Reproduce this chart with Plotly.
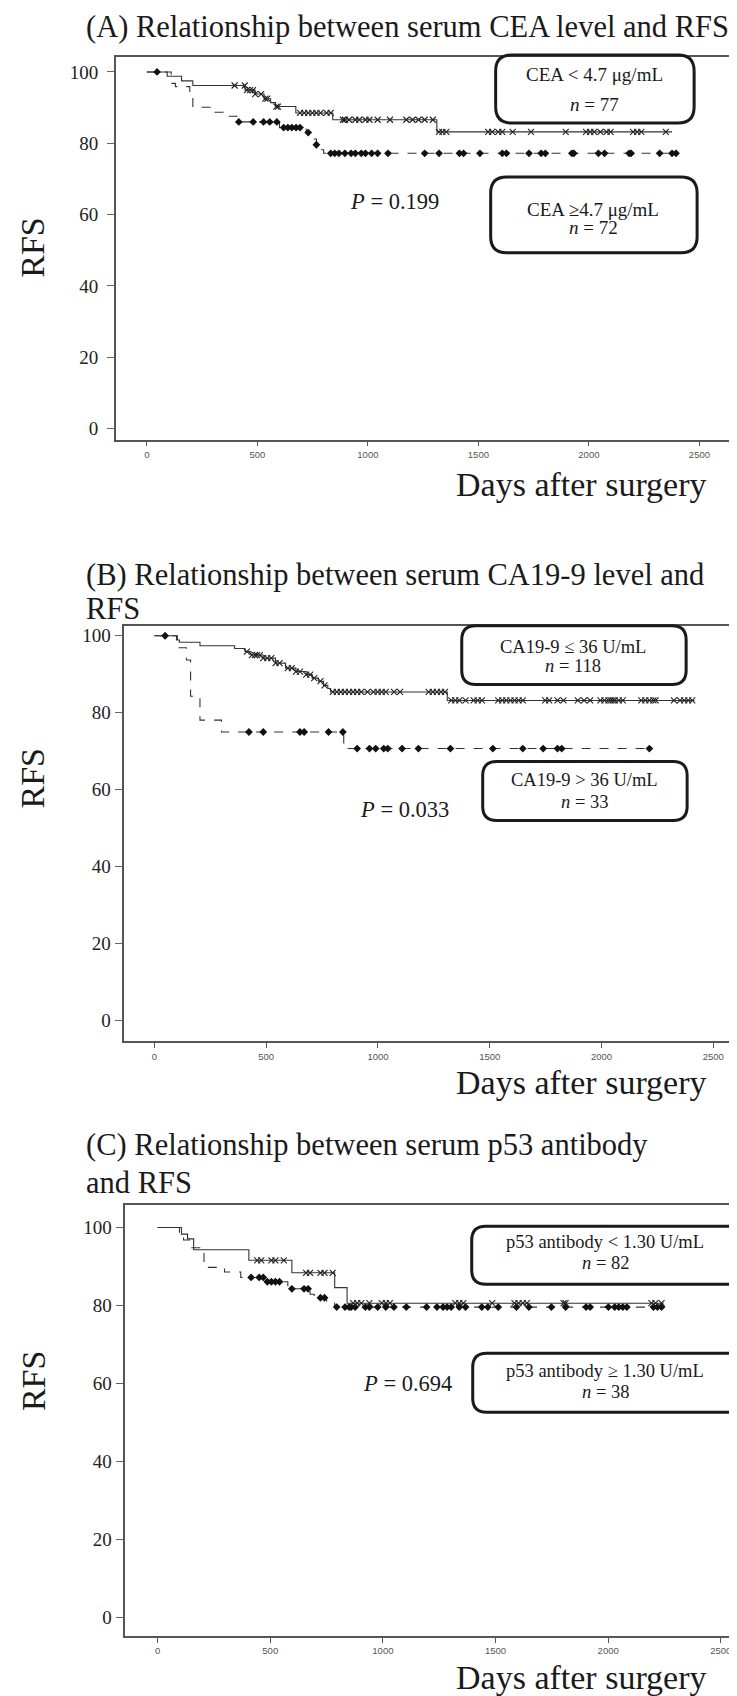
import numpy as np
import plotly.graph_objects as go

W, H = 737, 1696
OFF = 8  # browser body margin
FW, FH = W - OFF, H - OFF

# ---------------- Data ----------------
# Panel A: CEA
a_low_event_days = [0, 92, 157, 208, 444, 490, 530, 560, 582, 674, 841, 1312]
a_low_surv = [100, 98.8, 97.5, 96.2, 94.9, 93.8, 92.5, 91.4, 90.3, 88.5, 86.6, 83.2]
a_low_end = 2376
a_low_censor = [397, 443, 453, 467, 480, 490, 517, 536, 545, 586, 593, 693, 712, 730, 749, 767,
                786, 813, 832, 887, 896, 915, 943, 961, 989, 1007, 1044, 1100, 1174, 1202, 1229,
                1257, 1294, 1322, 1337, 1355, 1544, 1562, 1590, 1608, 1655, 1738, 1895, 1987,
                2006, 2024, 2052, 2080, 2098, 2200, 2219, 2237, 2348]
a_high_event_days = [0, 110, 129, 194, 208, 286, 360, 407, 600, 721, 739, 767, 786, 800]
a_high_surv = [100, 96.8, 95.9, 93.0, 90.1, 88.7, 87.6, 86.0, 84.4, 83.0, 81.2, 79.6, 78.2, 77.2]
a_high_end = 2404
a_high_censor = [46, 416, 481, 528, 556, 588, 619, 638, 656, 675, 693, 730, 767, 832, 850, 869,
                 896, 924, 943, 970, 989, 1017, 1044, 1091, 1257, 1322, 1414, 1433, 1507, 1608,
                 1627, 1729, 1784, 1803, 1923, 1932, 2043, 2071, 2182, 2191, 2320, 2376, 2394]

# Panel B: CA19-9
b_low_event_days = [0, 103, 112, 204, 359, 405, 432, 487, 542, 587, 633, 679, 706, 734, 757,
                    776, 788, 1310]
b_low_surv = [100, 98.9, 98.3, 97.4, 96.7, 95.9, 95.0, 94.2, 92.9, 91.6, 90.7, 89.9, 89.0,
              88.2, 87.1, 86.3, 85.4, 83.2]
b_low_end = 2415
b_low_censor = [414, 436, 450, 459, 472, 487, 505, 523, 542, 560, 597, 615, 633, 651, 679, 697,
                715, 743, 761, 798, 816, 834, 852, 871, 889, 907, 925, 953, 980, 999, 1017, 1035,
                1072, 1099, 1227, 1245, 1264, 1282, 1300, 1328, 1346, 1364, 1392, 1428, 1446,
                1465, 1538, 1556, 1574, 1593, 1611, 1629, 1648, 1748, 1766, 1803, 1830, 1894,
                1922, 1949, 1995, 2013, 2031, 2041, 2050, 2059, 2077, 2095, 2178, 2196, 2214,
                2232, 2242, 2324, 2351, 2370, 2388, 2406]
b_high_event_days = [0, 99, 143, 162, 204, 300, 847]
b_high_surv = [100, 96.9, 93.7, 84.3, 78.1, 75.0, 70.7]
b_high_end = 2214
b_high_censor = [48, 423, 487, 651, 670, 779, 843, 907, 962, 990, 1026, 1044, 1108, 1181, 1324,
                 1514, 1648, 1739, 1803, 1822, 2214]

# Panel C: p53 antibody
c_low_event_days = [0, 106, 133, 160, 405, 596, 786, 841]
c_low_surv = [100, 98.3, 97.1, 94.3, 91.6, 88.4, 84.6, 80.6]
c_low_end = 2246
c_low_censor = [442, 460, 505, 523, 560, 659, 677, 723, 741, 777, 868, 886, 904, 940, 995, 1013,
                1031, 1321, 1339, 1357, 1485, 1584, 1602, 1621, 1639, 1802, 1811, 2192, 2210, 2237]
c_high_event_days = [0, 97, 115, 151, 206, 297, 369, 478, 578, 677, 695, 750, 786]
c_high_surv = [100, 97.5, 96.8, 94.8, 89.8, 88.6, 87.2, 86.1, 84.3, 82.9, 82.0, 80.9, 79.6]
c_high_end = 2255
c_high_censor = [415, 451, 469, 487, 505, 523, 541, 596, 650, 668, 723, 741, 795, 832, 850, 859,
                 877, 922, 940, 977, 1013, 1049, 1104, 1194, 1240, 1267, 1285, 1303, 1339, 1367,
                 1439, 1466, 1512, 1593, 1648, 1748, 1811, 1902, 1920, 2001, 2029, 2047, 2065,
                 2083, 2201, 2219, 2237]

y_ticks = [0, 20, 40, 60, 80, 100]
x_ticks = [0, 500, 1000, 1500, 2000, 2500]

titles = [["(A) Relationship between serum CEA level and RFS"],
          ["(B) Relationship between serum CA19-9 level and", "RFS"],
          ["(C) Relationship between serum p53 antibody", "and RFS"]]
box_texts = [
    [["CEA < 4.7 μg/mL", "<i>n</i> = 77"], ["CEA ≥4.7 μg/mL", "<i>n</i> = 72"]],
    [["CA19-9 ≤ 36 U/mL", "<i>n</i> = 118"], ["CA19-9 > 36 U/mL", "<i>n</i> = 33"]],
    [["p53 antibody < 1.30 U/mL", "<i>n</i> = 82"], ["p53 antibody ≥ 1.30 U/mL", "<i>n</i> = 38"]],
]
p_values = ["0.199", "0.033", "0.694"]

# ---------------- Layout geometry (screen pixels) ----------------
panels = [
    dict(frame=(116, 56, 737, 439), xr=[-141, 2661], yr=[-3.1, 104.2],
         title_y=[26], days_y=484, rfs_y=246, box_fs=19, standoff=5,
         boxes=[(497, 54, 696, 122, 16, 74, 104, 596), (492, 176, 699, 252, 16, 209, 227, 595)],
         p=(396, 201)),
    dict(frame=(124.5, 625.5, 737, 1041), xr=[-135, 2597], yr=[-5.35, 102.5],
         title_y=[574, 608], days_y=1082, rfs_y=777, box_fs=18.5, standoff=1,
         boxes=[(463, 625, 688, 684, 14, 646, 665, 575), (484, 761, 689, 820, 14, 779, 801, 586)],
         p=(406, 809)),
    dict(frame=(125.5, 1205, 737, 1636), xr=[-144, 2563], yr=[-4.7, 105.7],
         title_y=[1145, 1183], days_y=1677, rfs_y=1380, box_fs=18.5, standoff=1,
         boxes=[(473, 1226, 745, 1284, 14, 1242, 1263, 607), (474, 1353, 745, 1412, 14, 1371, 1392, 607)],
         p=(409, 1383)),
]

def X(px):
    return (px - OFF) / FW

def Y(py):
    return 1 - (py - OFF) / FH

def step_trace(days, surv, end, dash, xa, ya):
    xs = list(days) + [end]
    ys = list(surv) + [surv[-1]]
    return go.Scatter(x=xs, y=ys, mode="lines", line_shape="hv",
                      line=dict(color="#333333", width=1.1, dash=dash),
                      xaxis=xa, yaxis=ya, showlegend=False, hoverinfo="skip")

def censor_trace(days, surv, cens, symbol, xa, ya):
    d = np.array(days)
    s = np.array(surv)
    idx = np.searchsorted(d, np.array(cens), side="right") - 1
    if symbol == "x":
        marker = dict(symbol="x-thin", size=6, line=dict(width=1.1, color="#222"))
    else:
        marker = dict(symbol="diamond", size=6, color="#111", line=dict(width=0))
    return go.Scatter(x=cens, y=s[idx], mode="markers", marker=marker,
                      xaxis=xa, yaxis=ya, showlegend=False, hoverinfo="skip")

data_sets = [
    (a_low_event_days, a_low_surv, a_low_end, a_low_censor,
     a_high_event_days, a_high_surv, a_high_end, a_high_censor),
    (b_low_event_days, b_low_surv, b_low_end, b_low_censor,
     b_high_event_days, b_high_surv, b_high_end, b_high_censor),
    (c_low_event_days, c_low_surv, c_low_end, c_low_censor,
     c_high_event_days, c_high_surv, c_high_end, c_high_censor),
]

fig = go.Figure()
layout = dict(width=FW, height=FH, margin=dict(l=0, r=0, t=0, b=0),
              paper_bgcolor="white", plot_bgcolor="white", showlegend=False)
annotations = []
shapes = []

SERIF = "Liberation Serif, Times New Roman, serif"
SANS = "Liberation Sans, Arial, sans-serif"
TXT = "#1a1a1a"

for i, (pn, ds) in enumerate(zip(panels, data_sets)):
    k = "" if i == 0 else str(i + 1)
    xa, ya = "x" + k, "y" + k
    ld, ls, le, lc, hd, hs, he, hc = ds
    fig.add_trace(step_trace(hd, hs, he, "dash", xa, ya))
    fig.add_trace(step_trace(ld, ls, le, "solid", xa, ya))
    fig.add_trace(censor_trace(hd, hs, hc, "diamond", xa, ya))
    fig.add_trace(censor_trace(ld, ls, lc, "x", xa, ya))

    x0, y0, x1, y1 = pn["frame"]
    layout["xaxis" + k] = dict(domain=[X(x0), min(1.0, X(x1))], range=pn["xr"], anchor=ya,
                               showline=True, mirror=True, linecolor="#555", linewidth=1.5,
                               ticks="outside", ticklen=5, tickcolor="#555", tickwidth=1.2,
                               tickvals=x_ticks, showgrid=False, zeroline=False,
                               tickfont=dict(family=SANS, size=9.5, color="#555"))
    layout["yaxis" + k] = dict(domain=[Y(y1), Y(y0)], range=pn["yr"], anchor=xa,
                               showline=True, mirror=True, linecolor="#555", linewidth=1.5,
                               ticks="outside", ticklen=7, tickcolor="#666", tickwidth=1.2,
                               tickvals=y_ticks, showgrid=False, zeroline=False,
                               ticklabelstandoff=pn["standoff"],
                               tickfont=dict(family=SERIF, size=19, color="#222"))

    for line, ty in zip(titles[i], pn["title_y"]):
        annotations.append(dict(text=line, x=X(84), y=Y(ty), xref="paper", yref="paper",
                                xanchor="left", yanchor="middle", showarrow=False,
                                font=dict(family=SERIF, size=30.5, color=TXT)))
    annotations.append(dict(text="Days after surgery", x=X(711), y=Y(pn["days_y"]),
                            xref="paper", yref="paper", xanchor="right", yanchor="middle",
                            showarrow=False, font=dict(family=SERIF, size=34, color=TXT)))
    annotations.append(dict(text="RFS", x=X(33), y=Y(pn["rfs_y"]), xref="paper", yref="paper",
                            xanchor="center", yanchor="middle", textangle=-90, showarrow=False,
                            font=dict(family=SERIF, size=34, color=TXT)))
    for (bx0, by0, bx1, by1, r, t1, t2, cx), texts in zip(pn["boxes"], box_texts[i]):
        path = (f"M {X(bx0 + r)},{Y(by0)} L {X(bx1 - r)},{Y(by0)} "
                f"Q {X(bx1)},{Y(by0)} {X(bx1)},{Y(by0 + r)} L {X(bx1)},{Y(by1 - r)} "
                f"Q {X(bx1)},{Y(by1)} {X(bx1 - r)},{Y(by1)} L {X(bx0 + r)},{Y(by1)} "
                f"Q {X(bx0)},{Y(by1)} {X(bx0)},{Y(by1 - r)} L {X(bx0)},{Y(by0 + r)} "
                f"Q {X(bx0)},{Y(by0)} {X(bx0 + r)},{Y(by0)} Z")
        shapes.append(dict(type="path", path=path, xref="paper", yref="paper",
                           line=dict(color=TXT, width=3)))
        for txt, ty in zip(texts, (t1, t2)):
            annotations.append(dict(text=txt, x=X(cx), y=Y(ty), xref="paper", yref="paper",
                                    xanchor="center", yanchor="middle", showarrow=False,
                                    font=dict(family=SERIF, size=pn["box_fs"], color=TXT)))
    px_, py_ = pn["p"]
    annotations.append(dict(text=f"<i>P</i> = {p_values[i]}", x=X(px_), y=Y(py_),
                            xref="paper", yref="paper", xanchor="center", yanchor="middle",
                            showarrow=False, font=dict(family=SERIF, size=22.5, color=TXT)))

layout["annotations"] = annotations
layout["shapes"] = shapes
fig.update_layout(**layout)
fig.write_html("out.html")
